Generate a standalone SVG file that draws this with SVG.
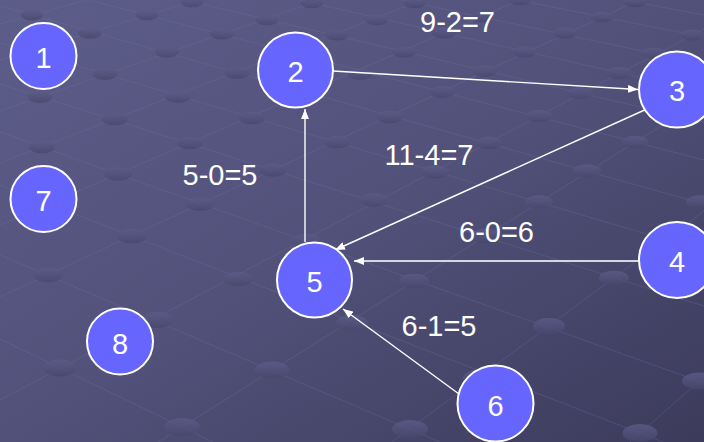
<svg xmlns="http://www.w3.org/2000/svg" width="704" height="442" viewBox="0 0 704 442">
<defs>
<linearGradient id="bg" x1="0" y1="0" x2="1" y2="1">
<stop offset="0" stop-color="#5d5d8a"/>
<stop offset="0.5" stop-color="#51517a"/>
<stop offset="1" stop-color="#3c3b5b"/>
</linearGradient>
<linearGradient id="dot" x1="0" y1="0" x2="0" y2="1">
<stop offset="0" stop-color="#5c5c89"/>
<stop offset="1" stop-color="#47476d"/>
</linearGradient>
<marker id="arrow" markerWidth="10" markerHeight="8" refX="10" refY="4" orient="auto" markerUnits="userSpaceOnUse">
<path d="M0,0 L10,4 L0,8 z" fill="#ffffff"/>
</marker>
<style>
.grid line{stroke:#7474a2;stroke-opacity:0.3;stroke-width:1}
.dots ellipse{fill:url(#dot);fill-opacity:0.8}
.node circle{fill:#6666ff;stroke:#ffffff;stroke-width:2}
.node text,.label{font-family:"Liberation Sans",Arial,sans-serif;font-size:29px;fill:#ffffff;text-anchor:middle}
.edge{stroke:#ffffff;stroke-width:1.4;fill:none;marker-end:url(#arrow)}
.edge.thick{stroke:#d6d6e2;stroke-width:2.2}
</style>
</defs>
<g id="background">
<rect width="704" height="442" fill="url(#bg)"/>
<g class="grid">
<line x1="0" y1="339" x2="213" y2="442"/>
<line x1="0" y1="255" x2="440" y2="442"/>
<line x1="0" y1="185" x2="663" y2="442"/>
<line x1="0" y1="132" x2="704" y2="383"/>
<line x1="0" y1="84" x2="704" y2="306"/>
<line x1="0" y1="43" x2="704" y2="251"/>
<line x1="0" y1="6" x2="704" y2="204"/>
<line x1="89" y1="0" x2="704" y2="160"/>
<line x1="184" y1="0" x2="704" y2="122"/>
<line x1="299" y1="0" x2="704" y2="92"/>
<line x1="401" y1="0" x2="704" y2="64"/>
<line x1="517" y1="0" x2="704" y2="37"/>
<line x1="624" y1="0" x2="704" y2="15"/>
<line x1="0" y1="24" x2="87" y2="0"/>
<line x1="0" y1="60" x2="197" y2="0"/>
<line x1="0" y1="111" x2="320" y2="0"/>
<line x1="0" y1="163" x2="422" y2="0"/>
<line x1="0" y1="225" x2="520" y2="0"/>
<line x1="0" y1="297" x2="639" y2="0"/>
<line x1="0" y1="400" x2="704" y2="29"/>
<line x1="158" y1="442" x2="704" y2="99"/>
<line x1="392" y1="442" x2="704" y2="211"/>
<line x1="630" y1="442" x2="704" y2="377"/>
</g>
<g class="dots">
<ellipse cx="32" cy="15" rx="11.5" ry="5.2"/>
<ellipse cx="90" cy="33" rx="12" ry="5.5"/>
<ellipse cx="147" cy="15" rx="11.5" ry="5.2"/>
<ellipse cx="192" cy="2" rx="11.5" ry="5.2"/>
<ellipse cx="33" cy="51" rx="12" ry="5.5"/>
<ellipse cx="40" cy="97" rx="12.5" ry="6"/>
<ellipse cx="105" cy="74" rx="12.5" ry="6"/>
<ellipse cx="167" cy="52" rx="12" ry="5.5"/>
<ellipse cx="222" cy="34" rx="12" ry="5.5"/>
<ellipse cx="267" cy="20" rx="11.5" ry="5.2"/>
<ellipse cx="312" cy="3" rx="11.5" ry="5.2"/>
<ellipse cx="42" cy="147" rx="13" ry="6.3"/>
<ellipse cx="115" cy="119" rx="13" ry="6.3"/>
<ellipse cx="178" cy="97" rx="12.5" ry="6"/>
<ellipse cx="237" cy="73" rx="12.5" ry="6"/>
<ellipse cx="290" cy="54" rx="12" ry="5.5"/>
<ellipse cx="337" cy="35" rx="12" ry="5.5"/>
<ellipse cx="377" cy="20" rx="11.5" ry="5.2"/>
<ellipse cx="415" cy="3" rx="11.5" ry="5.2"/>
<ellipse cx="42" cy="205" rx="14" ry="6.7"/>
<ellipse cx="118" cy="174" rx="14" ry="6.7"/>
<ellipse cx="190" cy="143" rx="13" ry="6.3"/>
<ellipse cx="252" cy="118" rx="13" ry="6.3"/>
<ellipse cx="310" cy="94" rx="12.5" ry="6"/>
<ellipse cx="360" cy="74" rx="12.5" ry="6"/>
<ellipse cx="404" cy="52" rx="12" ry="5.5"/>
<ellipse cx="444" cy="33" rx="12" ry="5.5"/>
<ellipse cx="482" cy="17" rx="11.5" ry="5.2"/>
<ellipse cx="520" cy="0" rx="11.5" ry="5.2"/>
<ellipse cx="48" cy="275" rx="15" ry="7.3"/>
<ellipse cx="132" cy="236" rx="15" ry="7.3"/>
<ellipse cx="200" cy="204" rx="14" ry="6.7"/>
<ellipse cx="273" cy="170" rx="14" ry="6.7"/>
<ellipse cx="337" cy="142" rx="13" ry="6.3"/>
<ellipse cx="390" cy="117" rx="13" ry="6.3"/>
<ellipse cx="442" cy="92" rx="12.5" ry="6"/>
<ellipse cx="485" cy="71" rx="12.5" ry="6"/>
<ellipse cx="524" cy="52" rx="12" ry="5.5"/>
<ellipse cx="565" cy="33" rx="12" ry="5.5"/>
<ellipse cx="602" cy="17" rx="11.5" ry="5.2"/>
<ellipse cx="635" cy="2" rx="11.5" ry="5.2"/>
<ellipse cx="60" cy="368" rx="17" ry="8.5"/>
<ellipse cx="157" cy="320" rx="16" ry="8"/>
<ellipse cx="238" cy="279" rx="15" ry="7.3"/>
<ellipse cx="307" cy="241" rx="15" ry="7.3"/>
<ellipse cx="374" cy="200" rx="14" ry="6.7"/>
<ellipse cx="435" cy="172" rx="14" ry="6.7"/>
<ellipse cx="489" cy="143" rx="13" ry="6.3"/>
<ellipse cx="539" cy="116" rx="13" ry="6.3"/>
<ellipse cx="580" cy="93" rx="12.5" ry="6"/>
<ellipse cx="619" cy="73" rx="12.5" ry="6"/>
<ellipse cx="654" cy="53" rx="12" ry="5.5"/>
<ellipse cx="692" cy="35" rx="12" ry="5.5"/>
<ellipse cx="182" cy="427" rx="18" ry="9"/>
<ellipse cx="272" cy="370" rx="17" ry="8.5"/>
<ellipse cx="352" cy="323" rx="16" ry="8"/>
<ellipse cx="414" cy="281" rx="15" ry="7.3"/>
<ellipse cx="485" cy="236" rx="15" ry="7.3"/>
<ellipse cx="539" cy="202" rx="14" ry="6.7"/>
<ellipse cx="587" cy="171" rx="14" ry="6.7"/>
<ellipse cx="635" cy="142" rx="13" ry="6.3"/>
<ellipse cx="677" cy="116" rx="13" ry="6.3"/>
<ellipse cx="410" cy="429" rx="18" ry="9"/>
<ellipse cx="480" cy="378" rx="17" ry="8.5"/>
<ellipse cx="549" cy="326" rx="16" ry="8"/>
<ellipse cx="614" cy="278" rx="15" ry="7.3"/>
<ellipse cx="666" cy="239" rx="15" ry="7.3"/>
<ellipse cx="700" cy="202" rx="14" ry="6.7"/>
<ellipse cx="640" cy="433" rx="17.5" ry="9"/>
<ellipse cx="699" cy="381" rx="17" ry="8.5"/>
</g>
</g>
<g id="connectors">
<line class="edge" x1="333" y1="71" x2="638" y2="89.5"/>
<line class="edge" x1="649" y1="108" x2="335" y2="250"/>
<line class="edge thick" x1="639" y1="261" x2="354" y2="261"/>
<line class="edge" x1="459" y1="394" x2="343" y2="309"/>
<line class="edge" x1="305" y1="242" x2="305" y2="109"/>
<text class="label" x="457.5" y="32">9-2=7</text>
<text class="label" x="220" y="185">5-0=5</text>
<text class="label" x="429" y="165">11-4=7</text>
<text class="label" x="496.5" y="242">6-0=6</text>
<text class="label" x="439" y="336">6-1=5</text>
</g>
<g id="node1" class="node"><circle cx="43.5" cy="56" r="33"/><text x="43.5" y="68">1</text></g>
<g id="node2" class="node"><circle cx="295.5" cy="70" r="37.5"/><text x="295.5" y="82">2</text></g>
<g id="node3" class="node"><circle cx="677" cy="89.5" r="38"/><text x="677" y="101">3</text></g>
<g id="node4" class="node"><circle cx="677" cy="260" r="38"/><text x="677" y="272">4</text></g>
<g id="node5" class="node"><circle cx="314.5" cy="280" r="37.5"/><text x="314.5" y="292">5</text></g>
<g id="node6" class="node"><circle cx="495.5" cy="403.5" r="38"/><text x="495.5" y="415.5">6</text></g>
<g id="node7" class="node"><circle cx="43.5" cy="199" r="33"/><text x="43.5" y="211">7</text></g>
<g id="node8" class="node"><circle cx="120" cy="341.5" r="33"/><text x="120" y="353.5">8</text></g>
</svg>
